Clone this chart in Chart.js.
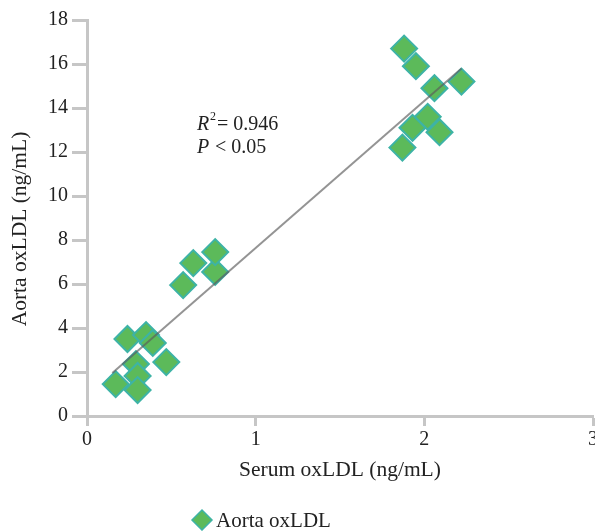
<!DOCTYPE html>
<html>
<head>
<meta charset="utf-8">
<script src="https://cdn.jsdelivr.net/npm/chart.js@4/dist/chart.umd.min.js"></script>
<style>
	html, body { margin: 0; padding: 0; background: #fff; }
	#wrap { width: 595px; height: 531px; }
</style>
</head>
<body>
<div id="wrap"><canvas id="chart" width="595" height="531"></canvas></div>
<script>
// serum vs aorta oxLDL
const serumOxLDL = [0.17, 0.24, 0.29, 0.30, 0.30, 0.35, 0.39, 0.47, 0.57, 0.63, 0.76, 0.76, 1.87, 1.88, 1.93, 1.95, 2.02, 2.06, 2.09, 2.22];
const aortaOxLDL = [1.45, 3.5, 2.36, 1.82, 1.18, 3.68, 3.32, 2.45, 5.95, 6.95, 6.55, 7.45, 12.2, 16.7, 13.1, 15.9, 13.6, 14.9, 12.9, 15.2];

const fitX = [0.15, 2.22];
const fitY = [1.95, 15.8];

const xTicks = [0, 1, 2, 3];
const yTicks = [0, 2, 4, 6, 8, 10, 12, 14, 16, 18];

const seriesLabel = "Aorta oxLDL";
const yTitle = "Aorta oxLDL (ng/mL)";
const xTitle = "Serum oxLDL (ng/mL)";
const statLines = ["= 0.946", "< 0.05"];

const serif = "'Liberation Serif', 'Times New Roman', serif";
const axisGray = "#c6c6c6";
const fillGreen = "#5cba5a";
const edgeTeal = "#3db3a6";

const points = serumOxLDL.map((x, i) => ({ x: x, y: aortaOxLDL[i] }));
const fitLine = fitX.map((x, i) => ({ x: x, y: fitY[i] }));

// the x axis runs right up to the edge of the figure, so stretch it after layout
const stretchX = {
	id: "stretchX",
	afterLayout(chart) {
		const right = chart.width - 2;
		const sx = chart.scales.x;
		sx.right = right;
		sx.width = right - sx.left;
		sx.configure();
		chart.chartArea.right = right;
		chart.chartArea.width = right - chart.chartArea.left;
	},
};

// y title, R^2 / P annotation and the legend drawn straight onto the canvas
const extras = {
	id: "extras",
	afterDraw(chart) {
		const ctx = chart.ctx;
		ctx.save();
		ctx.fillStyle = "#222";

		// y axis title sits a little below the middle of the axis
		ctx.save();
		ctx.translate(20, 229);
		ctx.rotate(-Math.PI / 2);
		ctx.font = "21.5px " + serif;
		ctx.textAlign = "center";
		ctx.textBaseline = "middle";
		ctx.fillText(yTitle, 0, 0);
		ctx.restore();

		ctx.textBaseline = "alphabetic";
		ctx.font = "italic 20px " + serif;
		ctx.fillText("R", 197, 130);
		ctx.font = "12px " + serif;
		ctx.fillText("2", 210, 120);
		ctx.font = "20px " + serif;
		ctx.fillText(statLines[0], 217, 130);

		ctx.font = "italic 20px " + serif;
		ctx.fillText("P", 197, 153);
		ctx.font = "20px " + serif;
		ctx.fillText(statLines[1], 215, 153);

		// legend
		const lx = 202, ly = 520, r = 10;
		ctx.beginPath();
		ctx.moveTo(lx - r, ly);
		ctx.lineTo(lx, ly - r);
		ctx.lineTo(lx + r, ly);
		ctx.lineTo(lx, ly + r);
		ctx.closePath();
		ctx.fillStyle = fillGreen;
		ctx.fill();
		ctx.strokeStyle = edgeTeal;
		ctx.lineWidth = 1.5;
		ctx.stroke();

		ctx.fillStyle = "#222";
		ctx.font = "21px " + serif;
		ctx.textBaseline = "middle";
		ctx.fillText(seriesLabel, 216, 521);
		ctx.restore();
	},
};

new Chart(document.getElementById("chart"), {
	type: "scatter",
	data: {
		datasets: [
			{
				label: "fit",
				type: "line",
				data: fitLine,
				borderColor: "rgba(90,90,90,0.65)",
				borderWidth: 2,
				pointRadius: 0,
				fill: false,
				order: 0,
			},
			{
				label: seriesLabel,
				data: points,
				pointStyle: "rectRot",
				pointRadius: 13,
				pointHoverRadius: 13,
				backgroundColor: fillGreen,
				borderColor: edgeTeal,
				borderWidth: 2,
				order: 1,
			},
		],
	},
	plugins: [stretchX, extras],
	options: {
		responsive: false,
		animation: false,
		layout: {
			padding: { top: 20, right: 0, bottom: 48, left: 0 },
		},
		plugins: {
			legend: { display: false },
			tooltip: { enabled: false },
		},
		scales: {
			x: {
				type: "linear",
				min: 0,
				max: 3,
				afterBuildTicks(scale) {
					scale.ticks = xTicks.map((v) => ({ value: v }));
				},
				afterFit(scale) {
					scale.height = 67;
				},
				ticks: {
					color: "#222",
					font: { family: serif, size: 20 },
					padding: 2,
				},
				grid: {
					drawOnChartArea: false,
					drawTicks: true,
					tickLength: 10,
					tickColor: axisGray,
					tickWidth: 3,
				},
				border: { display: true, color: axisGray, width: 3 },
				title: {
					display: true,
					text: xTitle,
					color: "#222",
					font: { family: serif, size: 21.5 },
					padding: { top: 4, bottom: 0 },
				},
			},
			y: {
				type: "linear",
				min: 0,
				max: 18,
				afterBuildTicks(scale) {
					scale.ticks = yTicks.map((v) => ({ value: v }));
				},
				afterFit(scale) {
					scale.width = 87;
				},
				ticks: {
					color: "#222",
					font: { family: serif, size: 20 },
					padding: 4,
				},
				grid: {
					drawOnChartArea: false,
					drawTicks: true,
					tickLength: 15,
					tickColor: axisGray,
					tickWidth: 3,
				},
				border: { display: true, color: axisGray, width: 3 },
			},
		},
	},
});
</script>
</body>
</html>
